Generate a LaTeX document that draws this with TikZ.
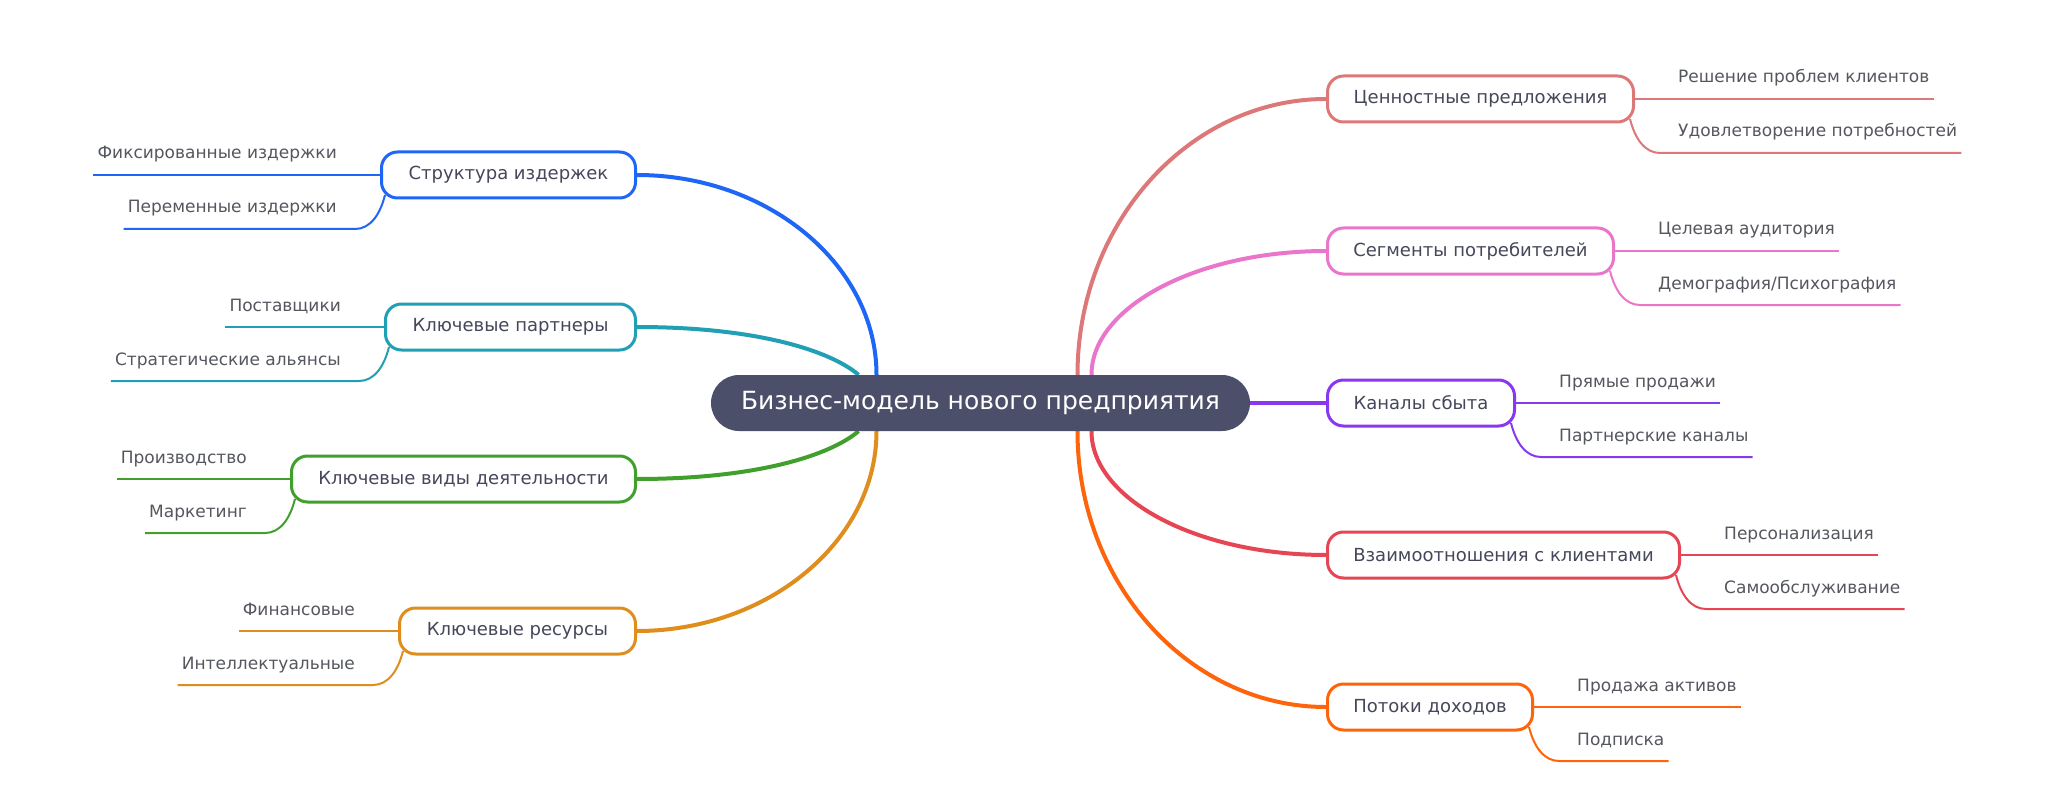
\documentclass[tikz,border=0pt]{standalone}
\usepackage{fontspec}
\setmainfont{DejaVu Sans}
\usetikzlibrary{positioning, calc, backgrounds}
\definecolor{rootfill}{HTML}{4C4F69}
\definecolor{boxtext}{HTML}{45475A}
\definecolor{leaftext}{HTML}{55575F}
\definecolor{cblue}{HTML}{1E66F5}
\definecolor{csapphire}{HTML}{209FB5}
\definecolor{cgreen}{HTML}{40A02B}
\definecolor{cyellow}{HTML}{DF8E1D}
\definecolor{cflamingo}{HTML}{DD7878}
\definecolor{cpink}{HTML}{EA76CB}
\definecolor{cmauve}{HTML}{8839EF}
\definecolor{cmaroon}{HTML}{E64553}
\definecolor{cpeach}{HTML}{FE640B}

\begin{document}
\begin{tikzpicture}[x=1pt, y=-1pt,
    root/.style={fill=rootfill, text=white, rounded corners=28pt, minimum width=539pt, minimum height=56pt,
                 font=\fontsize{25}{29}\selectfont},
    topic/.style={draw=#1, fill=white, line width=3pt, rounded corners=16pt, minimum height=46pt,
                  text=boxtext, font=\fontsize{18}{22}\selectfont},
    leaf/.style={text=leaftext, inner sep=0pt, font=\fontsize{17}{20}\selectfont},
    trunk/.style={draw=#1, line width=4pt},
    twig/.style={draw=#1, line width=2pt}
  ]
  \useasboundingbox (0,0) rectangle (2054,805);

  \node[root] (root) at (980.5,403) {Бизнес-модель нового предприятия};

  % left side
  \node[topic=cblue, minimum width=254pt, anchor=east] (cost) at (637,175) {Структура издержек};
  \node[topic=csapphire, minimum width=250pt, anchor=east] (part) at (637,327) {Ключевые партнеры};
  \node[topic=cgreen, minimum width=344pt, anchor=east] (act) at (637,479) {Ключевые виды деятельности};
  \node[topic=cyellow, minimum width=236pt, anchor=east] (res) at (637,631) {Ключевые ресурсы};

  % right side
  \node[topic=cflamingo, minimum width=306pt, anchor=west] (value) at (1326,99) {Ценностные предложения};
  \node[topic=cpink, minimum width=286pt, anchor=west] (segm) at (1326,251) {Сегменты потребителей};
  \node[topic=cmauve, minimum width=187pt, anchor=west] (chan) at (1326,403) {Каналы сбыта};
  \node[topic=cmaroon, minimum width=352pt, anchor=west] (rel) at (1326,555) {Взаимоотношения с клиентами};
  \node[topic=cpeach, minimum width=205pt, anchor=west] (rev) at (1326,707) {Потоки доходов};

  % leaves
  \node[leaf, anchor=base east] (fix) at ($(cost.west)+(-43,-16)$) {Фиксированные издержки};
  \node[leaf, anchor=base east] (var) at ($(cost.west)+(-43,38)$) {Переменные издержки};
  \node[leaf, anchor=base east] (supp) at ($(part.west)+(-43,-16)$) {Поставщики};
  \node[leaf, anchor=base east] (ally) at ($(part.west)+(-43,38)$) {Стратегические альянсы};
  \node[leaf, anchor=base east] (prod) at ($(act.west)+(-43,-16)$) {Производство};
  \node[leaf, anchor=base east] (mark) at ($(act.west)+(-43,38)$) {Маркетинг};
  \node[leaf, anchor=base east] (fin) at ($(res.west)+(-43,-16)$) {Финансовые};
  \node[leaf, anchor=base east] (intel) at ($(res.west)+(-43,38)$) {Интеллектуальные};

  \node[leaf, anchor=base west] (solve) at ($(value.east)+(43,-16)$) {Решение проблем клиентов};
  \node[leaf, anchor=base west] (need) at ($(value.east)+(43,38)$) {Удовлетворение потребностей};
  \node[leaf, anchor=base west] (aud) at ($(segm.east)+(43,-16)$) {Целевая аудитория};
  \node[leaf, anchor=base west] (demo) at ($(segm.east)+(43,38)$) {Демография/Психография};
  \node[leaf, anchor=base west] (direct) at ($(chan.east)+(43,-16)$) {Прямые продажи};
  \node[leaf, anchor=base west] (pchan) at ($(chan.east)+(43,38)$) {Партнерские каналы};
  \node[leaf, anchor=base west] (pers) at ($(rel.east)+(43,-16)$) {Персонализация};
  \node[leaf, anchor=base west] (self) at ($(rel.east)+(43,38)$) {Самообслуживание};
  \node[leaf, anchor=base west] (sale) at ($(rev.east)+(43,-16)$) {Продажа активов};
  \node[leaf, anchor=base west] (subs) at ($(rev.east)+(43,38)$) {Подписка};

  \begin{pgfonlayer}{background}
    \fill[white] (0,0) rectangle (2054,805);
    % trunks
    \draw[trunk=cblue] ([xshift=-104pt]root.north) .. controls ([shift={(-104pt,110pt)}]root.north)
      and ([xshift=131pt]cost.east) .. (cost.east);
    \draw[trunk=csapphire] ([xshift=-122pt]root.north) .. controls ([shift={(-150pt,24pt)}]root.north)
      and ([xshift=120pt]part.east) .. (part.east);
    \draw[trunk=cgreen] ([xshift=-122pt]root.south) .. controls ([shift={(-150pt,-24pt)}]root.south)
      and ([xshift=120pt]act.east) .. (act.east);
    \draw[trunk=cyellow] ([xshift=-104pt]root.south) .. controls ([shift={(-104pt,-110pt)}]root.south)
      and ([xshift=131pt]res.east) .. (res.east);
    \draw[trunk=cflamingo] ([xshift=97pt]root.north) .. controls ([shift={(97pt,152pt)}]root.north)
      and ([xshift=-137pt]value.west) .. (value.west);
    \draw[trunk=cpink] ([xshift=111pt]root.north) .. controls ([shift={(111pt,68pt)}]root.north)
      and ([xshift=-129pt]segm.west) .. (segm.west);
    \draw[trunk=cmauve] (root.east) -- (chan.west);
    \draw[trunk=cmaroon] ([xshift=111pt]root.south) .. controls ([shift={(111pt,-68pt)}]root.south)
      and ([xshift=-129pt]rel.west) .. (rel.west);
    \draw[trunk=cpeach] ([xshift=97pt]root.south) .. controls ([shift={(97pt,-152pt)}]root.south)
      and ([xshift=-137pt]rev.west) .. (rev.west);

    % twigs, left
    \draw[twig=cblue] (cost.west) -- ($(fix.west |- cost.west)+(-4,0)$);
    \draw[twig=cblue] ($(cost.west)+(5,20)$) .. controls ($(cost.west)+(0,40)$) and ($(cost.west)+(-10,54)$)
      .. ($(cost.west)+(-25,54)$) -- ($(var.west |- cost.west)+(-4,54)$);
    \draw[twig=csapphire] (part.west) -- ($(supp.west |- part.west)+(-4,0)$);
    \draw[twig=csapphire] ($(part.west)+(5,20)$) .. controls ($(part.west)+(0,40)$) and ($(part.west)+(-10,54)$)
      .. ($(part.west)+(-25,54)$) -- ($(ally.west |- part.west)+(-4,54)$);
    \draw[twig=cgreen] (act.west) -- ($(prod.west |- act.west)+(-4,0)$);
    \draw[twig=cgreen] ($(act.west)+(5,20)$) .. controls ($(act.west)+(0,40)$) and ($(act.west)+(-10,54)$)
      .. ($(act.west)+(-25,54)$) -- ($(mark.west |- act.west)+(-4,54)$);
    \draw[twig=cyellow] (res.west) -- ($(fin.west |- res.west)+(-4,0)$);
    \draw[twig=cyellow] ($(res.west)+(5,20)$) .. controls ($(res.west)+(0,40)$) and ($(res.west)+(-10,54)$)
      .. ($(res.west)+(-25,54)$) -- ($(intel.west |- res.west)+(-4,54)$);

    % twigs, right
    \draw[twig=cflamingo] (value.east) -- ($(solve.east |- value.east)+(4,0)$);
    \draw[twig=cflamingo] ($(value.east)+(-5,20)$) .. controls ($(value.east)+(0,40)$) and ($(value.east)+(10,54)$)
      .. ($(value.east)+(25,54)$) -- ($(need.east |- value.east)+(4,54)$);
    \draw[twig=cpink] (segm.east) -- ($(aud.east |- segm.east)+(4,0)$);
    \draw[twig=cpink] ($(segm.east)+(-5,20)$) .. controls ($(segm.east)+(0,40)$) and ($(segm.east)+(10,54)$)
      .. ($(segm.east)+(25,54)$) -- ($(demo.east |- segm.east)+(4,54)$);
    \draw[twig=cmauve] (chan.east) -- ($(direct.east |- chan.east)+(4,0)$);
    \draw[twig=cmauve] ($(chan.east)+(-5,20)$) .. controls ($(chan.east)+(0,40)$) and ($(chan.east)+(10,54)$)
      .. ($(chan.east)+(25,54)$) -- ($(pchan.east |- chan.east)+(4,54)$);
    \draw[twig=cmaroon] (rel.east) -- ($(pers.east |- rel.east)+(4,0)$);
    \draw[twig=cmaroon] ($(rel.east)+(-5,20)$) .. controls ($(rel.east)+(0,40)$) and ($(rel.east)+(10,54)$)
      .. ($(rel.east)+(25,54)$) -- ($(self.east |- rel.east)+(4,54)$);
    \draw[twig=cpeach] (rev.east) -- ($(sale.east |- rev.east)+(4,0)$);
    \draw[twig=cpeach] ($(rev.east)+(-5,20)$) .. controls ($(rev.east)+(0,40)$) and ($(rev.east)+(10,54)$)
      .. ($(rev.east)+(25,54)$) -- ($(subs.east |- rev.east)+(4,54)$);
  \end{pgfonlayer}
\end{tikzpicture}
\end{document}
